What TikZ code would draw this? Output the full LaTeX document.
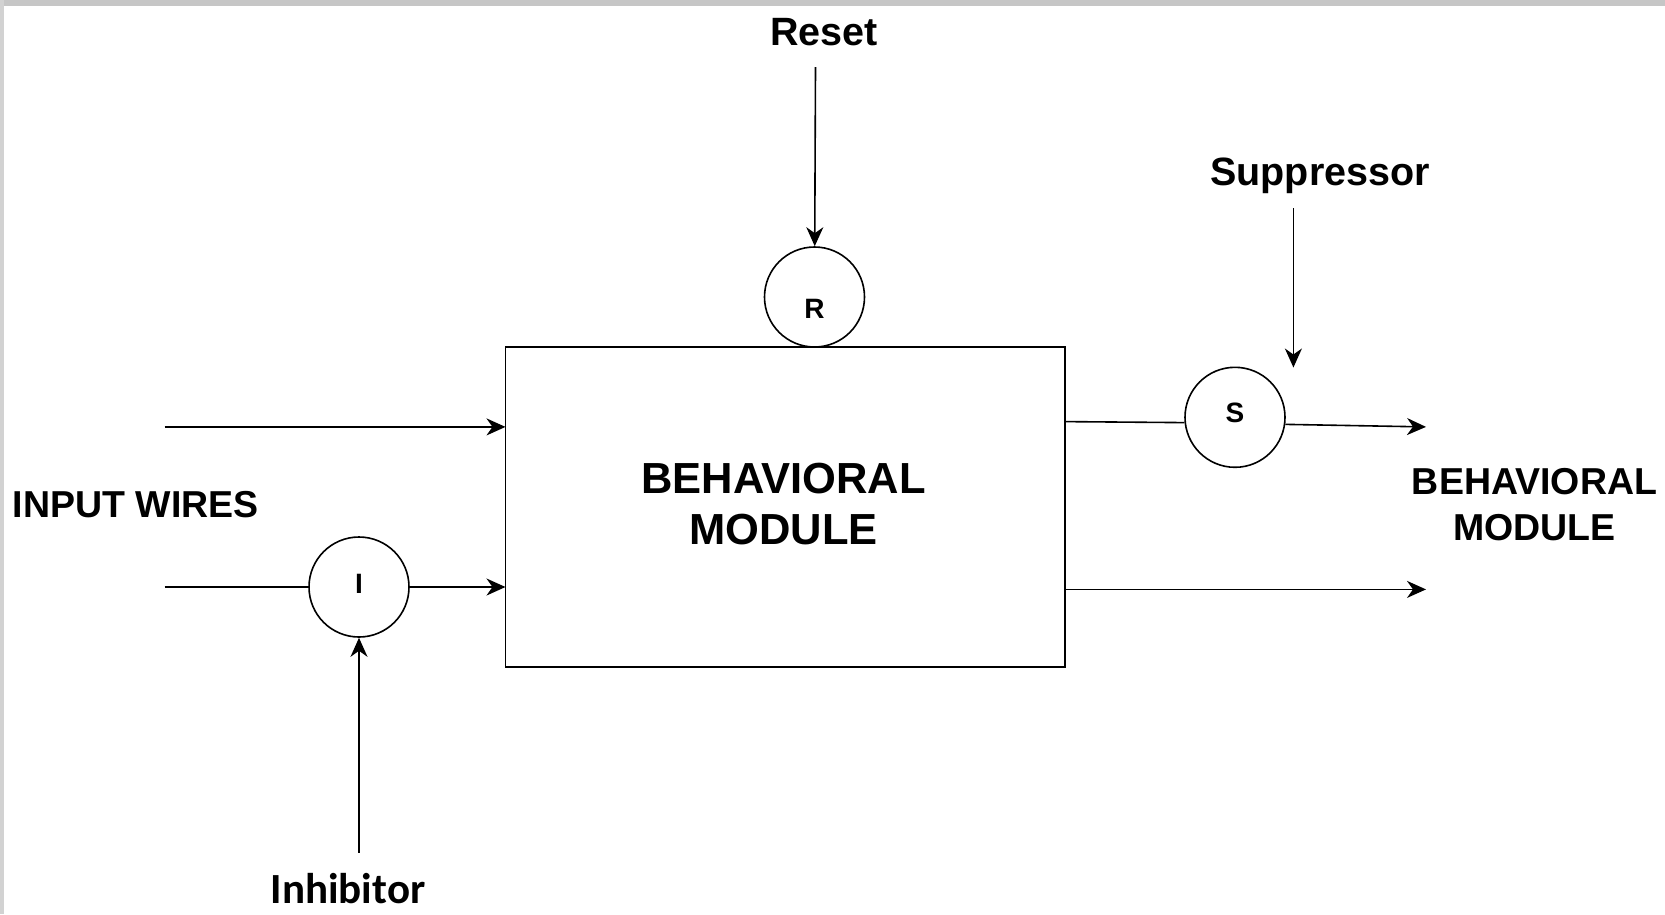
\documentclass[tikz,border=0pt]{standalone}
\usepackage{fontspec}
\setmainfont{Liberation Sans}
\newfontfamily\calfont{Carlito}
\usetikzlibrary{arrows.meta}

% letter sitting at a given depth below the circle centre
\newcommand{\gateletter}[2]{\smash{\raisebox{#1}{#2}}}

\begin{document}
\begin{tikzpicture}[x=1pt,y=-1pt,
  wire/.style={line width=1.6pt, draw=black},
  arr/.style={wire, -{Stealth[length=19pt,width=17pt,inset=6pt]}},
  gate/.style={circle, draw=black, line width=1.6pt, minimum size=100pt, inner sep=0pt,
               font=\fontsize{28}{30}\selectfont\bfseries},
  module/.style={rectangle, draw=black, line width=1.6pt, minimum width=559.6pt,
                 minimum height=319.7pt, inner sep=0pt},
  biglabel/.style={align=center, inner sep=0pt, font=\fontsize{43.5}{51}\selectfont\bfseries},
  label/.style={align=center, inner sep=0pt, font=\fontsize{37.5}{46}\selectfont\bfseries},
  txt/.style={inner sep=0pt, font=\fontsize{39.5}{44}\selectfont\bfseries}]

% page and window frame
\useasboundingbox (0,0) rectangle (1665,914);
\fill[white] (0,0) rectangle (1665,914);
\fill[gray!45] (0,0) rectangle (1665,6);
\fill[gray!35] (0,0) rectangle (4,914);

% central block
\node[module] (mod) at (785.3,507) {};
\node[biglabel] (modtext) at (783.7,504) {BEHAVIORAL\\MODULE};

% gates
\node[gate] (R) at (814.5,297) {\gateletter{-21pt}{R}};
\node[gate] (I) at (359,587) {\gateletter{-6pt}{I}};
\node[gate] (S) at (1235,417.3) {\gateletter{-5pt}{S}};

% labels
\node[txt] (reset) at (824,32) {Reset};
\node[txt] (supp) at (1320,176) {Suppressor};
\node[inner sep=0pt, font=\fontsize{43}{48}\selectfont\calfont\bfseries] (inh) at (348,889) {Inhibitor};
\node[label, anchor=west] (inwires) at (12.7,504.4) {INPUT WIRES};
\node[label] (outmod) at (1534.5,505) {BEHAVIORAL\\MODULE};

% wire end points
\coordinate (in1) at (164.6,426.9);
\coordinate (in1e) at (505.5,426.9);
\coordinate (in2) at (164.6,587);
\coordinate (in2e) at (505.5,587);
\coordinate (resetTop) at (815.5,67);
\coordinate (suppTop) at (1293.4,208);
\coordinate (suppEnd) at (1293.4,367.5);
\coordinate (inhBot) at (359,852.7);
\coordinate (sIn) at (1065.1,421.6);
\coordinate (out1) at (1426,426.9);
\coordinate (out2s) at (1065.1,589.4);
\coordinate (out2) at (1426,589.4);

% inputs
\draw[arr] (in1) -- (in1e);
\draw[wire] (in2) -- (I);
\draw[arr] (I) -- (in2e);
\draw[arr] (inhBot) -- (I);

% control lines
\draw[arr] (resetTop) -- (R);
\draw[arr] (suppTop) -- (suppEnd);

% outputs
\draw[wire] (sIn) -- (S.186);
\draw[arr] (S.352) -- (out1);
\draw[arr] (out2s) -- (out2);
\end{tikzpicture}
\end{document}
